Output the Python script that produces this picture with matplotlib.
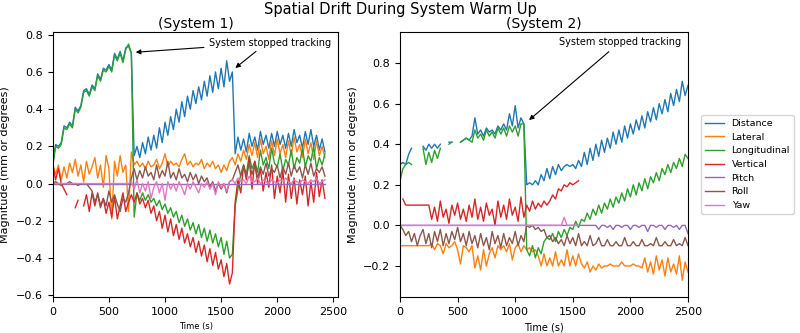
import numpy as np
import matplotlib
matplotlib.use("Agg")
import matplotlib.pyplot as plt

nan = np.nan

labels = ["Distance", "Lateral", "Longitudinal", "Vertical", "Pitch", "Roll", "Yaw"]
colors = ["C0", "C1", "C2", "C3", "C4", "C5", "C6"]

# ---------------- System 1 (samples every 25 s) ----------------
t1 = np.arange(0, 2426, 25)

dist1 = [
    0.10, 0.21, 0.20, 0.22,
    0.31, 0.30, 0.33, 0.31,
    0.41, 0.39, 0.42, 0.50,
    0.51, 0.48, 0.53, 0.51,
    0.59, 0.56, 0.62, 0.61,
    0.64, 0.61, 0.70, 0.67,
    0.71, 0.66, 0.73, 0.74,
    0.70, 0.15, 0.20, 0.14,
    0.22, 0.16, 0.25, 0.18,
    0.26, 0.19, 0.30, 0.22,
    0.33, 0.26, 0.36, 0.29,
    0.40, 0.33, 0.44, 0.36,
    0.47, 0.40, 0.50, 0.43,
    0.52, 0.45, 0.55, 0.47,
    0.58, 0.49, 0.60, 0.51,
    0.62, 0.52, 0.66, 0.55,
    0.60, 0.16, 0.25, 0.18,
    0.24, 0.17, 0.27, 0.20,
    0.25, 0.18, 0.28, 0.21,
    0.26, 0.19, 0.27, 0.20,
    0.28, 0.21, 0.26, 0.19,
    0.27, 0.20, 0.29, 0.22,
    0.26, 0.19, 0.28, 0.21,
    0.29, 0.20, 0.26, 0.18,
    0.24, 0.17]

lat1 = [
    0.10, 0.05, 0.10, 0.02,
    0.09, 0.03, 0.11, 0.06,
    0.13, 0.04, 0.10, 0.01,
    0.12, 0.05, 0.09, 0.14,
    0.03, 0.10, -0.02, 0.15,
    0.08, -0.19, 0.12, 0.04,
    0.15, 0.06, 0.10, -0.15,
    0.17, 0.10, 0.12, 0.09,
    0.11, 0.08, 0.12, 0.09,
    0.10, 0.13, 0.08, 0.11,
    0.16, 0.09, 0.12, 0.10,
    0.11, 0.09, 0.13, 0.16,
    0.10, 0.12, 0.09, 0.11,
    0.10, 0.13, 0.08, 0.11,
    0.09, 0.12, 0.08, 0.10,
    0.06, 0.10, 0.07, 0.12,
    0.14, 0.10, 0.16, 0.12,
    0.18, 0.13, 0.21, 0.15,
    0.22, 0.14, 0.24, 0.16,
    0.20, 0.13, 0.23, 0.15,
    0.24, 0.16, 0.21, 0.14,
    0.23, 0.15, 0.25, 0.17,
    0.21, 0.14, 0.24, 0.16,
    0.22, 0.13, 0.23, 0.15,
    0.20, 0.14]

long1 = [
    0.10, 0.20, 0.19, 0.21,
    0.30, 0.29, 0.32, 0.30,
    0.40, 0.38, 0.41, 0.49,
    0.50, 0.47, 0.52, 0.50,
    0.58, 0.55, 0.61, 0.60,
    0.63, 0.60, 0.69, 0.66,
    0.70, 0.65, 0.72, 0.75,
    0.70, -0.18, -0.05, -0.09,
    -0.05, -0.09, -0.06, -0.10,
    -0.08, -0.12, -0.09, -0.14,
    -0.11, -0.16, -0.13, -0.18,
    -0.15, -0.21, -0.17, -0.23,
    -0.19, -0.25, -0.21, -0.27,
    -0.22, -0.29, -0.24, -0.31,
    -0.25, -0.32, -0.27, -0.34,
    -0.29, -0.38, -0.31, -0.40,
    -0.38, -0.12, -0.03, 0.05,
    0.10, 0.05, 0.15, 0.08,
    0.12, 0.06, 0.18, 0.10,
    0.14, 0.08, 0.19, 0.11,
    0.09, 0.16, 0.07, 0.13,
    0.10, 0.18, 0.08, 0.14,
    0.11, 0.19, 0.09, 0.15,
    0.12, 0.20, 0.08, 0.14,
    0.10, 0.16]

vert1 = [
    0.10, 0.02, 0.08, 0.00,
    -0.03, -0.06, nan, nan,
    -0.13, -0.09, nan, -0.12,
    -0.06, -0.15, -0.05, -0.12,
    -0.05, -0.12, -0.08, -0.16,
    -0.10, -0.18, -0.07, -0.19,
    -0.12, -0.05, -0.15, -0.10,
    -0.06, -0.10, -0.05, -0.11,
    -0.08, -0.13, -0.09, -0.16,
    -0.12, -0.20, -0.15, -0.24,
    -0.17, -0.26, -0.19, -0.28,
    -0.22, -0.30, -0.24, -0.32,
    -0.27, -0.34, -0.29, -0.37,
    -0.31, -0.39, -0.33, -0.42,
    -0.35, -0.44, -0.37, -0.46,
    -0.41, -0.50, -0.43, -0.54,
    -0.48, -0.10, 0.02, -0.05,
    0.10, 0.02, 0.14, -0.03,
    0.12, 0.00, 0.08, -0.04,
    0.06, -0.02, 0.10, -0.08,
    0.04, -0.05, 0.07, -0.10,
    0.05, -0.08, 0.03, -0.11,
    0.02, -0.06, 0.04, -0.12,
    0.01, -0.10, 0.06, -0.07,
    0.02, -0.08]

pitch1_t = [0, 2425]
pitch1 = [0.0, 0.0]

roll1 = [
    0.00, 0.01, 0.00, -0.01,
    0.00, 0.00, 0.01, 0.00,
    0.00, -0.01, 0.00, 0.00,
    0.00, -0.02, -0.04, -0.10,
    -0.06, -0.13, -0.08, -0.12,
    -0.04, -0.10, -0.06, -0.11,
    -0.15, -0.08, -0.10, -0.05,
    0.03, 0.08, 0.02, 0.07,
    0.03, 0.09, 0.04, 0.06,
    0.02, 0.10, 0.03, 0.07,
    0.04, 0.12, 0.03, 0.06,
    0.02, 0.08, 0.03, 0.05,
    0.01, 0.06, 0.02, 0.05,
    0.00, 0.04, 0.01, 0.03,
    -0.02, 0.01, -0.04, 0.00,
    -0.03, 0.00, -0.05, 0.01,
    0.02, 0.06, 0.10, 0.04,
    0.09, 0.04, 0.11, 0.05,
    0.10, 0.03, 0.09, 0.05,
    0.11, 0.04, 0.08, 0.06,
    0.10, 0.03, 0.09, 0.05,
    0.11, 0.04, 0.10, 0.06,
    0.09, 0.03, 0.10, 0.05,
    0.11, 0.04, 0.08, 0.06,
    0.09, 0.04]

yaw1 = [
    0.00, 0.00, 0.00, 0.00,
    0.00, 0.00, 0.00, 0.00,
    0.00, 0.00, 0.00, 0.00,
    0.00, 0.00, 0.00, 0.00,
    0.00, 0.00, 0.00, 0.00,
    0.00, 0.00, 0.00, 0.00,
    0.00, 0.00, 0.00, 0.00,
    0.01, -0.03, 0.02, -0.05,
    0.00, -0.04, 0.01, -0.08,
    -0.02, 0.01, -0.05, 0.00,
    -0.09, 0.01, -0.03, 0.00,
    -0.04, 0.01, -0.02, -0.06,
    0.00, -0.03, 0.01, -0.02,
    -0.05, 0.00, -0.02, 0.01,
    -0.03, 0.00, -0.06, 0.01,
    -0.02, 0.00, -0.04, 0.01,
    0.02, 0.00, 0.03, 0.01,
    0.02, 0.00, 0.04, 0.01,
    0.01, 0.03, 0.00, 0.02,
    0.01, 0.00, 0.02, 0.01,
    0.00, 0.02, 0.01, 0.03,
    0.01, 0.00, 0.02, 0.01,
    0.00, 0.02, 0.01, 0.00,
    0.02, 0.01, 0.03, 0.00,
    0.01, 0.02]

# ---------------- System 2 (samples every 25 s) ----------------
t2 = np.arange(0, 2501, 25)

dist2 = [
    0.30, 0.31, 0.30, 0.35,
    0.38, nan, nan, nan,
    0.39, 0.37, 0.40, 0.38,
    0.40, 0.38, 0.40, nan,
    nan, 0.41, 0.41, nan,
    nan, 0.41, 0.42, 0.43,
    0.42, 0.44, 0.53, 0.45,
    0.47, 0.44, 0.48, 0.46,
    0.47, 0.45, 0.49, 0.47,
    0.50, 0.47, 0.55, 0.49,
    0.59, 0.48, 0.53, 0.50,
    0.20, 0.21, 0.20, 0.22,
    0.20, 0.25, 0.22, 0.28,
    0.23, 0.29, 0.25, 0.30,
    0.27, 0.29, 0.30, 0.29,
    0.30, 0.28, 0.32, 0.29,
    0.36, 0.30, 0.38, 0.32,
    0.40, 0.34, 0.42, 0.36,
    0.43, 0.38, 0.46, 0.40,
    0.47, 0.41, 0.49, 0.43,
    0.50, 0.45, 0.52, 0.47,
    0.54, 0.48, 0.56, 0.51,
    0.58, 0.52, 0.60, 0.55,
    0.62, 0.56, 0.65, 0.59,
    0.67, 0.61, 0.71, 0.64,
    0.69]

lat2 = [
    -0.10, -0.10, -0.10, -0.10,
    -0.10, -0.10, -0.10, -0.10,
    -0.10, -0.10, -0.10, -0.09,
    -0.12, -0.09, -0.10, -0.14,
    -0.09, -0.11, -0.10, -0.08,
    -0.12, -0.19, -0.10, -0.11,
    -0.13, -0.10, -0.21, -0.15,
    -0.22, -0.12, -0.20, -0.14,
    -0.11, -0.16, -0.10, -0.12,
    -0.10, -0.13, -0.09, -0.17,
    -0.11, -0.09, -0.13, -0.10,
    -0.12, -0.11, -0.13, -0.12,
    -0.15, -0.20, -0.14, -0.20,
    -0.16, -0.20, -0.13, -0.20,
    -0.17, -0.20, -0.12, -0.20,
    -0.15, -0.20, -0.14, -0.19,
    -0.21, -0.18, -0.23, -0.20,
    -0.22, -0.19, -0.21, -0.20,
    -0.20, -0.19, -0.20, -0.20,
    -0.20, -0.18, -0.20, -0.20,
    -0.20, -0.19, -0.20, -0.20,
    -0.21, -0.16, -0.23, -0.18,
    -0.24, -0.15, -0.22, -0.17,
    -0.25, -0.16, -0.23, -0.19,
    -0.24, -0.15, -0.27, -0.18,
    -0.23]

long2 = [
    0.22, 0.28, 0.30, 0.31,
    0.30, nan, nan, nan,
    0.38, 0.30, 0.36, 0.31,
    0.37, 0.33, 0.38, nan,
    nan, 0.40, 0.41, nan,
    nan, 0.41, 0.42, 0.43,
    0.42, 0.41, 0.47, 0.43,
    0.45, 0.42, 0.47, 0.44,
    0.46, 0.43, 0.48, 0.45,
    0.48, 0.44, 0.49, 0.46,
    0.49, 0.44, 0.50, 0.50,
    -0.12, -0.15, -0.10, -0.16,
    -0.11, -0.14, -0.08, -0.06,
    -0.07, -0.04, -0.08, -0.03,
    -0.06, -0.02, -0.05, -0.01,
    -0.02, 0.02, -0.01, 0.03,
    0.02, 0.06, 0.03, 0.08,
    0.05, 0.10, 0.06, 0.11,
    0.08, 0.13, 0.09, 0.14,
    0.11, 0.16, 0.12, 0.18,
    0.14, 0.20, 0.15, 0.21,
    0.17, 0.23, 0.18, 0.24,
    0.21, 0.26, 0.22, 0.28,
    0.25, 0.30, 0.26, 0.31,
    0.28, 0.33, 0.29, 0.35,
    0.33]

vert2 = [
    nan, 0.13, 0.10, 0.10,
    0.10, 0.10, 0.10, 0.10,
    0.10, 0.10, 0.10, 0.03,
    0.09, 0.02, 0.12, 0.04,
    0.08, 0.01, 0.10, 0.05,
    0.11, 0.03, 0.08, 0.02,
    0.10, 0.04, 0.13, 0.03,
    0.09, 0.02, 0.11, 0.05,
    0.08, 0.00, 0.12, 0.04,
    0.10, 0.03, 0.13, 0.05,
    0.09, 0.02, 0.14, 0.04,
    0.10, 0.07, 0.12, 0.08,
    0.11, 0.09, 0.12, 0.10,
    0.12, 0.15, 0.13, 0.18,
    0.17, 0.20, 0.19, 0.21,
    0.20, 0.21, 0.22]

pitch2 = [
    0.00, 0.00, 0.00, 0.00,
    0.00, 0.00, 0.00, 0.00,
    0.00, 0.00, 0.00, 0.00,
    0.00, 0.00, 0.00, 0.00,
    0.00, 0.00, 0.00, 0.00,
    0.00, 0.00, 0.00, 0.00,
    0.00, 0.00, 0.00, 0.00,
    0.00, 0.00, 0.00, 0.00,
    0.00, 0.00, 0.00, 0.00,
    0.00, 0.00, 0.00, 0.00,
    0.00, 0.00, 0.00, 0.00,
    0.00, 0.00, 0.00, 0.00,
    0.00, 0.00, 0.00, 0.00,
    0.00, 0.00, 0.00, 0.00,
    0.00, 0.00, 0.00, 0.00,
    0.00, 0.00, 0.00, 0.00,
    0.00, 0.00, 0.00, 0.00,
    0.00, -0.02, 0.00, 0.00,
    -0.01, 0.00, -0.02, 0.00,
    0.00, -0.01, 0.00, 0.00,
    -0.02, 0.00, 0.00, -0.01,
    0.00, 0.00, -0.03, 0.00,
    0.00, -0.01, 0.00, 0.00,
    -0.02, 0.00, 0.00, -0.01,
    0.00, -0.02, 0.00, 0.00,
    -0.04]

roll2 = [
    0.00, -0.02, -0.05, -0.03,
    -0.08, -0.04, -0.10, -0.05,
    -0.02, -0.09, -0.04, -0.11,
    -0.03, -0.08, -0.02, -0.10,
    -0.04, -0.09, -0.03, -0.07,
    -0.01, -0.08, -0.04, -0.10,
    -0.03, -0.09, -0.05, -0.11,
    -0.04, -0.10, -0.06, -0.12,
    -0.03, -0.09, -0.05, -0.11,
    -0.04, -0.10, -0.06, -0.09,
    -0.03, -0.10, -0.05, -0.08,
    0.00, -0.01, 0.00, -0.02,
    -0.01, -0.03, -0.02, -0.06,
    -0.05, -0.08, -0.06, -0.09,
    -0.07, -0.10, -0.05, -0.09,
    -0.06, -0.10, -0.04, -0.10,
    -0.08, -0.10, -0.05, -0.10,
    -0.09, -0.06, -0.10, -0.10,
    -0.07, -0.10, -0.10, -0.08,
    -0.10, -0.10, -0.06, -0.10,
    -0.10, -0.08, -0.10, -0.10,
    -0.07, -0.10, -0.10, -0.09,
    -0.10, -0.06, -0.10, -0.10,
    -0.08, -0.10, -0.10, -0.07,
    -0.10, -0.09, -0.10, -0.06,
    -0.10]

yaw2 = [
    0.00, 0.00, 0.00, 0.00,
    0.00, 0.00, 0.00, 0.00,
    0.00, 0.00, 0.00, 0.00,
    0.00, 0.00, 0.00, 0.00,
    0.00, 0.00, 0.00, 0.00,
    0.00, 0.00, 0.00, 0.00,
    0.00, 0.00, 0.00, 0.00,
    0.00, 0.00, 0.00, 0.00,
    0.00, 0.00, 0.00, 0.00,
    0.00, 0.00, 0.00, 0.00,
    0.00, 0.00, 0.00, 0.00,
    0.00, 0.00, 0.00, 0.00,
    0.00, 0.00, 0.00, 0.00,
    0.00, 0.00, 0.00, 0.00,
    0.00, 0.04, 0.00, 0.00,
    0.00, 0.00, 0.00]

series1 = [(t1, dist1), (t1, lat1), (t1, long1), (t1, vert1),
           (pitch1_t, pitch1), (t1, roll1), (t1, yaw1)]
series2 = [(t2, dist2), (t2, lat2), (t2, long2), (t2, vert2),
           (t2, pitch2), (t2, roll2), (t2, yaw2)]


def main():
    fig = plt.figure(figsize=(8, 3.33), dpi=100)
    ax1 = fig.add_axes([0.066, 0.108, 0.357, 0.796])
    ax2 = fig.add_axes([0.5, 0.108, 0.36, 0.796])

    for ax, series in ((ax1, series1), (ax2, series2)):
        for (tt, vals), lab, col in zip(series, labels, colors):
            tt = np.asarray(tt)[:len(vals)]
            ax.plot(tt, vals, color=col, lw=1.0, label=lab)
        ax.set_ylabel("Magnitude (mm or degrees)", fontsize=8)
        ax.tick_params(labelsize=8)
        ax.set_xticks([0, 500, 1000, 1500, 2000, 2500])

    ax1.set_xlabel("Time (s)", fontsize=6)
    ax2.set_xlabel("Time (s)", fontsize=7)

    ax1.set_xlim(0, 2545)
    ax1.set_ylim(-0.61, 0.815)
    ax1.set_yticks(np.arange(-0.6, 0.81, 0.2))
    ax2.set_xlim(0, 2500)
    ax2.set_ylim(-0.353, 0.953)
    ax2.set_yticks(np.arange(-0.2, 0.81, 0.2))

    ax1.set_title("(System 1)", fontsize=10, pad=3)
    ax2.set_title("(System 2)", fontsize=10, pad=3)
    fig.suptitle("Spatial Drift During System Warm Up", fontsize=10.5, y=0.97, va="center")

    arrow = dict(arrowstyle="-|>", color="black", lw=0.8, mutation_scale=7)
    ax1.annotate("System stopped tracking", xy=(714, 0.705), xytext=(1940, 0.757),
                 fontsize=7, ha="center", va="center", arrowprops=arrow)
    ax1.annotate("", xy=(1607, 0.612), xytext=(1830, 0.72), arrowprops=arrow)
    ax2.annotate("System stopped tracking", xy=(1102, 0.51), xytext=(1910, 0.903),
                 fontsize=7, ha="center", va="center", arrowprops=arrow)

    ax2.legend(loc="center left", bbox_to_anchor=(1.03, 0.5), fontsize=6.8)

    plt.savefig("out.png")
    plt.close()


if __name__ == "__main__":
    main()
